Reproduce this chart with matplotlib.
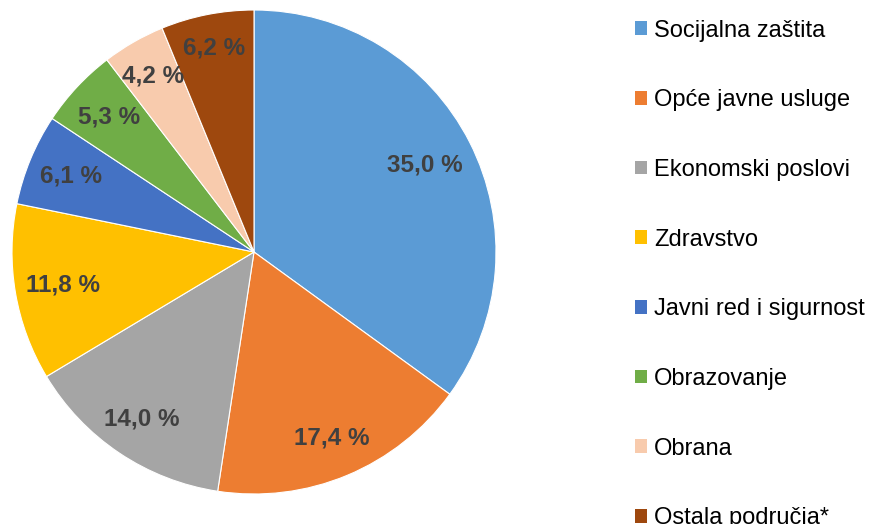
import matplotlib
matplotlib.use("Agg")
import matplotlib.pyplot as plt
import numpy as np

categories = ["Socijalna zaštita", "Opće javne usluge", "Ekonomski poslovi", "Zdravstvo",
              "Javni red i sigurnost", "Obrazovanje", "Obrana", "Ostala područja*"]
values = [35.0, 17.4, 14.0, 11.8, 6.1, 5.3, 4.2, 6.2]
colors = ["#5B9BD5", "#ED7D31", "#A5A5A5", "#FFC000", "#4472C4", "#70AD47", "#F8CBAD", "#9E480E"]
label_dist = [0.79, 0.835, 0.83, 0.80, 0.82, 0.82, 0.84, 0.86]

plt.rcParams['font.family'] = ['Liberation Sans', 'DejaVu Sans']

W, H = 870, 524
fig = plt.figure(figsize=(W / 100, H / 100), dpi=100)
cx, cy, r = 254, 252, 242
ax = fig.add_axes([(cx - r) / W, (H - cy - r) / H, 2 * r / W, 2 * r / H])

wedges, texts, autotexts = ax.pie(
    values, colors=colors, startangle=90, counterclock=False,
    autopct=lambda p: f"{p:.1f} %".replace(".", ","), pctdistance=0.82,
    wedgeprops=dict(edgecolor="white", linewidth=0.8),
    textprops=dict(fontsize=17.5, fontweight="bold", color="#404040"))
for w, t, d in zip(wedges, autotexts, label_dist):
    ang = np.deg2rad((w.theta1 + w.theta2) / 2)
    t.set_position((d * np.cos(ang), d * np.sin(ang)))
ax.set_xlim(-1, 1)
ax.set_ylim(-1, 1)
ax.set_aspect("equal")
ax.axis("off")

leg = fig.legend(wedges, categories, loc="upper left",
                 bbox_to_anchor=(635 / W, 1 - 19.5 / H), frameon=False,
                 fontsize=17, handlelength=0.51, handleheight=0.51,
                 handletextpad=0.3, labelspacing=2.02, borderpad=0, borderaxespad=0)
for h in leg.legend_handles:
    h.set_edgecolor("none")

fig.savefig("out.png", dpi=100)
